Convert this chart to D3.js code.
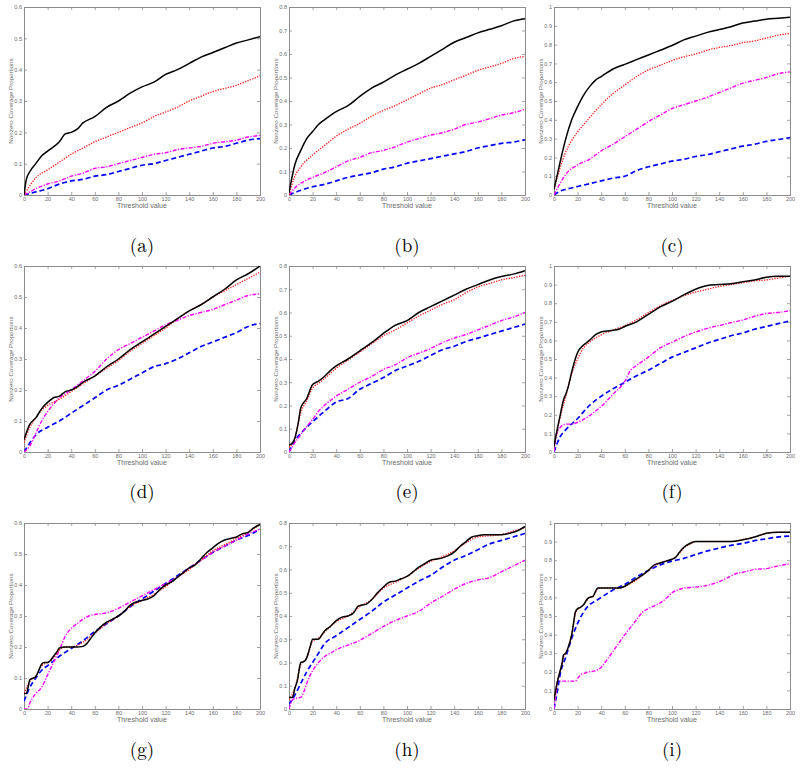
<!DOCTYPE html>
<html><head><meta charset="utf-8">
<script src="https://cdn.jsdelivr.net/npm/d3@7"></script>
<style>body{margin:0;background:#fff}svg{display:block}</style>
</head><body>
<svg id="chart" width="800" height="773"></svg>
<script>
// ---------- DATA (threshold, proportion) ----------
const xTicks = [0,20,40,60,80,100,120,140,160,180,200];
const captions = ["(a)","(b)","(c)","(d)","(e)","(f)","(g)","(h)","(i)"];
const yMax = [0.6,0.8,1,0.6,0.8,1,0.6,0.8,1];
const seriesNames = ["black","red","magenta","blue"];

// (a)
const a_black = [[0,0],[2,0.05],[5,0.075],[10,0.1],[15,0.125],[20,0.14],[30,0.17],[35,0.195],[40,0.2],[45,0.21],[50,0.23],[60,0.25],[70,0.28],[80,0.3],[90,0.325],[100,0.345],[110,0.36],[120,0.385],[130,0.4],[140,0.42],[150,0.44],[160,0.455],[170,0.47],[180,0.485],[190,0.495],[200,0.505]];
const a_red = [[0,0],[5,0.03],[10,0.055],[20,0.08],[30,0.105],[40,0.13],[50,0.15],[60,0.17],[70,0.185],[80,0.2],[90,0.215],[100,0.23],[110,0.25],[120,0.265],[130,0.28],[140,0.3],[150,0.315],[160,0.33],[170,0.34],[180,0.35],[190,0.365],[200,0.38]];
const a_magenta = [[0,0],[5,0.01],[10,0.02],[20,0.035],[30,0.045],[40,0.06],[50,0.07],[60,0.085],[70,0.09],[80,0.1],[90,0.11],[100,0.12],[110,0.13],[120,0.135],[130,0.145],[140,0.15],[150,0.155],[160,0.165],[170,0.17],[180,0.175],[190,0.185],[200,0.19]];
const a_blue = [[0,0],[10,0.01],[20,0.02],[30,0.035],[40,0.045],[50,0.05],[60,0.06],[70,0.065],[80,0.075],[90,0.085],[100,0.095],[110,0.1],[120,0.11],[130,0.12],[140,0.13],[150,0.14],[160,0.15],[170,0.155],[180,0.165],[190,0.175],[200,0.18]];
// (b)
const b_black = [[0,0.01],[5,0.13],[10,0.19],[15,0.24],[20,0.27],[25,0.3],[30,0.32],[40,0.355],[50,0.38],[60,0.42],[70,0.455],[80,0.48],[90,0.51],[100,0.535],[110,0.56],[120,0.59],[130,0.62],[140,0.65],[150,0.67],[160,0.69],[170,0.705],[180,0.72],[190,0.74],[200,0.75]];
const b_red = [[0,0],[5,0.08],[10,0.12],[20,0.17],[30,0.21],[40,0.25],[50,0.28],[60,0.305],[70,0.335],[80,0.36],[90,0.38],[100,0.405],[110,0.43],[120,0.455],[130,0.47],[140,0.49],[150,0.51],[160,0.53],[170,0.545],[180,0.56],[190,0.58],[200,0.59]];
const b_magenta = [[0,0],[5,0.03],[10,0.05],[20,0.075],[30,0.095],[40,0.12],[50,0.145],[60,0.16],[70,0.18],[80,0.19],[90,0.205],[100,0.225],[110,0.24],[120,0.255],[130,0.265],[140,0.28],[150,0.3],[160,0.31],[170,0.325],[180,0.34],[190,0.35],[200,0.365]];
const b_blue = [[0,0],[10,0.02],[20,0.035],[30,0.045],[40,0.06],[50,0.075],[60,0.085],[70,0.095],[80,0.11],[90,0.12],[100,0.135],[110,0.145],[120,0.155],[130,0.165],[140,0.175],[150,0.185],[160,0.2],[170,0.21],[180,0.22],[190,0.225],[200,0.235]];
// (c)
const c_black = [[0,0.03],[5,0.17],[10,0.3],[15,0.4],[20,0.47],[25,0.53],[30,0.575],[35,0.61],[40,0.63],[50,0.67],[60,0.695],[70,0.72],[80,0.745],[90,0.77],[100,0.795],[110,0.825],[120,0.845],[130,0.865],[140,0.88],[150,0.895],[160,0.915],[170,0.925],[180,0.935],[190,0.94],[200,0.945]];
const c_red = [[0,0.03],[5,0.14],[10,0.23],[15,0.29],[20,0.335],[30,0.41],[40,0.48],[50,0.54],[60,0.585],[70,0.63],[80,0.665],[90,0.69],[100,0.715],[110,0.735],[120,0.75],[130,0.77],[140,0.785],[150,0.795],[160,0.81],[170,0.82],[180,0.835],[190,0.85],[200,0.86]];
const c_magenta = [[0,0],[5,0.06],[10,0.11],[20,0.16],[30,0.19],[40,0.235],[50,0.27],[60,0.31],[70,0.35],[80,0.39],[90,0.425],[100,0.46],[110,0.48],[120,0.5],[130,0.52],[140,0.545],[150,0.57],[160,0.595],[170,0.61],[180,0.625],[190,0.645],[200,0.655]];
const c_blue = [[0,0],[5,0.02],[10,0.03],[20,0.045],[30,0.06],[40,0.075],[50,0.09],[60,0.1],[70,0.13],[80,0.15],[90,0.165],[100,0.18],[110,0.19],[120,0.205],[130,0.215],[140,0.23],[150,0.245],[160,0.26],[170,0.27],[180,0.285],[190,0.295],[200,0.305]];
// (d)
const d_black = [[0,0.04],[5,0.09],[10,0.11],[15,0.14],[20,0.16],[25,0.175],[30,0.18],[35,0.195],[40,0.2],[45,0.21],[50,0.225],[60,0.245],[70,0.275],[80,0.3],[90,0.33],[100,0.355],[110,0.38],[120,0.405],[130,0.43],[140,0.455],[150,0.475],[160,0.5],[170,0.525],[180,0.555],[190,0.575],[200,0.6]];
const d_red = [[0,0.03],[5,0.08],[10,0.11],[15,0.135],[20,0.15],[30,0.17],[40,0.195],[50,0.22],[60,0.245],[70,0.27],[80,0.295],[90,0.325],[100,0.35],[110,0.375],[120,0.4],[130,0.43],[140,0.455],[150,0.475],[160,0.5],[170,0.52],[180,0.54],[190,0.56],[200,0.58]];
const d_magenta = [[0,0],[5,0.02],[10,0.06],[15,0.1],[20,0.13],[25,0.155],[30,0.175],[40,0.2],[50,0.23],[60,0.26],[70,0.3],[80,0.33],[90,0.35],[100,0.37],[110,0.39],[120,0.41],[130,0.425],[140,0.44],[150,0.45],[160,0.46],[170,0.475],[180,0.49],[190,0.505],[200,0.51]];
const d_blue = [[0,0],[5,0.03],[10,0.055],[20,0.08],[30,0.1],[40,0.125],[50,0.15],[60,0.175],[70,0.2],[80,0.215],[90,0.235],[100,0.255],[110,0.275],[120,0.285],[130,0.3],[140,0.32],[150,0.34],[160,0.355],[170,0.37],[180,0.385],[190,0.405],[200,0.415]];
// (e)
const e_black = [[0,0.03],[3,0.04],[5,0.06],[8,0.13],[10,0.19],[15,0.23],[20,0.29],[25,0.305],[30,0.325],[35,0.35],[40,0.37],[50,0.4],[60,0.435],[70,0.47],[80,0.51],[90,0.545],[100,0.565],[110,0.6],[120,0.625],[130,0.65],[140,0.675],[150,0.7],[160,0.72],[170,0.74],[180,0.755],[190,0.765],[200,0.78]];
const e_red = [[0,0.02],[5,0.06],[10,0.17],[15,0.22],[20,0.275],[25,0.295],[30,0.315],[40,0.36],[50,0.395],[60,0.43],[70,0.465],[80,0.5],[90,0.525],[100,0.555],[110,0.585],[120,0.61],[130,0.635],[140,0.655],[150,0.685],[160,0.71],[170,0.725],[180,0.74],[190,0.75],[200,0.76]];
const e_magenta = [[0,0],[5,0.04],[10,0.075],[15,0.11],[20,0.14],[25,0.175],[30,0.2],[40,0.24],[50,0.27],[60,0.3],[70,0.325],[80,0.355],[90,0.375],[100,0.405],[110,0.425],[120,0.445],[130,0.47],[140,0.49],[150,0.505],[160,0.525],[170,0.545],[180,0.565],[190,0.58],[200,0.6]];
const e_blue = [[0,0],[5,0.05],[10,0.08],[20,0.13],[30,0.175],[40,0.215],[50,0.23],[60,0.27],[70,0.295],[80,0.32],[90,0.35],[100,0.37],[110,0.39],[120,0.415],[130,0.44],[140,0.455],[150,0.475],[160,0.49],[170,0.505],[180,0.52],[190,0.535],[200,0.55]];
// (f)
const f_black = [[0,0.03],[3,0.13],[5,0.19],[8,0.28],[10,0.31],[12,0.35],[15,0.43],[18,0.5],[20,0.535],[25,0.575],[30,0.6],[35,0.63],[40,0.645],[45,0.65],[50,0.655],[55,0.66],[60,0.675],[70,0.7],[80,0.74],[90,0.78],[100,0.81],[110,0.845],[120,0.875],[130,0.895],[140,0.9],[150,0.905],[160,0.915],[170,0.925],[180,0.94],[190,0.945],[200,0.945]];
const f_red = [[0,0.03],[5,0.18],[10,0.3],[15,0.42],[20,0.5],[25,0.56],[30,0.59],[40,0.63],[50,0.655],[60,0.68],[70,0.71],[80,0.75],[90,0.785],[100,0.815],[110,0.84],[120,0.86],[130,0.875],[140,0.89],[150,0.9],[160,0.91],[170,0.92],[180,0.925],[190,0.935],[200,0.945]];
const f_magenta = [[0,0],[2,0.09],[5,0.13],[10,0.15],[15,0.15],[20,0.16],[25,0.175],[30,0.195],[40,0.245],[50,0.31],[60,0.38],[65,0.44],[70,0.465],[80,0.51],[90,0.56],[100,0.59],[110,0.62],[120,0.645],[130,0.665],[140,0.68],[150,0.695],[160,0.71],[170,0.73],[180,0.745],[190,0.75],[200,0.76]];
const f_blue = [[0,0],[5,0.08],[10,0.12],[20,0.18],[30,0.25],[40,0.3],[50,0.34],[60,0.375],[70,0.41],[80,0.44],[90,0.475],[100,0.51],[110,0.535],[120,0.56],[130,0.585],[140,0.605],[150,0.625],[160,0.64],[170,0.66],[180,0.675],[190,0.69],[200,0.705]];
// (g)
const g_black = [[0,0.05],[2,0.05],[4,0.08],[5,0.095],[8,0.1],[10,0.105],[12,0.12],[15,0.145],[17,0.15],[20,0.15],[22,0.155],[25,0.17],[28,0.185],[30,0.197],[35,0.2],[40,0.2],[45,0.2],[50,0.202],[53,0.21],[56,0.225],[60,0.245],[65,0.265],[70,0.28],[75,0.29],[80,0.3],[85,0.315],[90,0.335],[95,0.345],[100,0.35],[105,0.355],[110,0.365],[115,0.385],[120,0.4],[125,0.41],[130,0.425],[135,0.44],[140,0.455],[145,0.465],[150,0.485],[155,0.505],[160,0.52],[165,0.535],[170,0.545],[175,0.55],[180,0.555],[185,0.565],[190,0.57],[195,0.585],[200,0.595]];
const g_red = [[0,0.05],[5,0.09],[10,0.105],[15,0.14],[20,0.15],[25,0.165],[30,0.19],[35,0.2],[40,0.2],[45,0.205],[50,0.215],[60,0.245],[70,0.275],[80,0.3],[90,0.33],[100,0.35],[110,0.37],[120,0.395],[130,0.425],[140,0.45],[150,0.48],[160,0.51],[170,0.53],[180,0.55],[190,0.57],[200,0.595]];
const g_magenta = [[0,0],[3,0],[5,0.02],[8,0.04],[10,0.05],[15,0.07],[20,0.11],[25,0.15],[30,0.19],[35,0.235],[40,0.26],[45,0.275],[50,0.29],[55,0.3],[60,0.305],[70,0.31],[80,0.325],[90,0.345],[100,0.365],[110,0.385],[120,0.405],[130,0.425],[140,0.455],[150,0.48],[160,0.505],[170,0.525],[180,0.545],[190,0.565],[200,0.58]];
const g_blue = [[0,0.025],[5,0.07],[10,0.1],[15,0.125],[20,0.14],[30,0.17],[40,0.195],[50,0.22],[60,0.25],[70,0.275],[80,0.3],[90,0.33],[100,0.355],[110,0.38],[120,0.405],[130,0.43],[140,0.455],[150,0.48],[160,0.505],[170,0.525],[180,0.545],[190,0.56],[200,0.58]];
// (h)
const h_black = [[0,0.05],[3,0.05],[5,0.09],[7,0.12],[10,0.2],[13,0.205],[15,0.22],[18,0.27],[20,0.3],[25,0.3],[28,0.32],[30,0.335],[35,0.355],[40,0.38],[45,0.395],[50,0.4],[55,0.415],[58,0.44],[60,0.445],[65,0.45],[70,0.47],[75,0.5],[80,0.525],[85,0.545],[90,0.55],[95,0.56],[100,0.57],[105,0.59],[110,0.61],[115,0.625],[120,0.64],[125,0.645],[130,0.65],[135,0.66],[140,0.675],[145,0.7],[150,0.72],[155,0.74],[160,0.745],[165,0.75],[170,0.75],[180,0.75],[190,0.76],[195,0.77],[200,0.785]];
const h_red = [[0,0.04],[5,0.09],[10,0.19],[15,0.22],[20,0.29],[25,0.305],[30,0.33],[40,0.375],[50,0.4],[60,0.44],[70,0.47],[80,0.52],[90,0.545],[100,0.57],[110,0.605],[120,0.635],[130,0.655],[140,0.68],[150,0.715],[160,0.74],[170,0.745],[180,0.75],[190,0.765],[200,0.78]];
const h_magenta = [[0,0],[3,0.04],[5,0.045],[10,0.05],[13,0.08],[15,0.11],[20,0.165],[25,0.2],[30,0.225],[35,0.24],[40,0.255],[50,0.275],[60,0.295],[70,0.325],[80,0.355],[90,0.38],[100,0.4],[110,0.42],[120,0.455],[130,0.485],[140,0.515],[150,0.54],[160,0.555],[170,0.565],[180,0.59],[190,0.615],[200,0.64]];
const h_blue = [[0,0.02],[5,0.06],[10,0.11],[15,0.16],[20,0.2],[25,0.24],[30,0.28],[40,0.315],[50,0.35],[60,0.385],[70,0.42],[80,0.46],[90,0.49],[100,0.52],[110,0.55],[120,0.575],[130,0.61],[140,0.64],[150,0.66],[160,0.685],[170,0.71],[180,0.725],[190,0.74],[200,0.755]];
// (i)
const i_black = [[0,0.05],[2,0.12],[3,0.15],[5,0.2],[7,0.25],[8,0.29],[10,0.3],[12,0.33],[15,0.4],[17,0.48],[18,0.52],[20,0.54],[22,0.545],[25,0.56],[28,0.59],[30,0.6],[33,0.605],[35,0.63],[37,0.65],[40,0.65],[50,0.65],[55,0.65],[60,0.66],[65,0.68],[70,0.7],[75,0.72],[80,0.745],[85,0.775],[90,0.785],[95,0.795],[100,0.805],[103,0.815],[106,0.84],[110,0.87],[115,0.89],[120,0.9],[130,0.9],[140,0.9],[150,0.9],[160,0.91],[170,0.925],[175,0.935],[180,0.945],[190,0.95],[200,0.95]];
const i_red = [[0,0.05],[2,0.12],[3,0.15],[5,0.2],[7,0.25],[8,0.28],[10,0.3],[12,0.33],[15,0.4],[17,0.47],[18,0.51],[20,0.535],[22,0.545],[25,0.56],[28,0.585],[30,0.6],[33,0.605],[35,0.625],[37,0.645],[40,0.65],[50,0.65],[55,0.65],[60,0.66],[65,0.675],[70,0.695],[75,0.72],[80,0.745],[85,0.77],[90,0.785],[95,0.795],[100,0.805],[103,0.815],[106,0.835],[110,0.865],[115,0.885],[120,0.9],[130,0.9],[140,0.9],[150,0.9],[160,0.91],[170,0.925],[175,0.935],[180,0.945],[190,0.95],[200,0.95]];
const i_magenta = [[0,0],[2,0.1],[3,0.15],[5,0.15],[10,0.15],[15,0.15],[18,0.15],[20,0.165],[23,0.185],[27,0.195],[30,0.2],[35,0.205],[40,0.225],[45,0.265],[50,0.31],[55,0.355],[60,0.4],[65,0.44],[70,0.48],[75,0.52],[80,0.54],[85,0.555],[90,0.57],[95,0.595],[100,0.625],[105,0.64],[110,0.65],[120,0.655],[130,0.665],[140,0.685],[150,0.715],[155,0.73],[160,0.735],[170,0.75],[180,0.755],[190,0.77],[200,0.78]];
const i_blue = [[0,0],[3,0.1],[5,0.18],[10,0.28],[15,0.38],[20,0.46],[25,0.52],[30,0.56],[35,0.58],[40,0.6],[50,0.64],[60,0.67],[70,0.71],[80,0.745],[90,0.775],[100,0.795],[110,0.81],[120,0.83],[130,0.85],[140,0.865],[150,0.88],[160,0.89],[170,0.905],[180,0.915],[190,0.925],[200,0.93]];

const panels = [
  [a_black,a_red,a_magenta,a_blue],[b_black,b_red,b_magenta,b_blue],[c_black,c_red,c_magenta,c_blue],
  [d_black,d_red,d_magenta,d_blue],[e_black,e_red,e_magenta,e_blue],[f_black,f_red,f_magenta,f_blue],
  [g_black,g_red,g_magenta,g_blue],[h_black,h_red,h_magenta,h_blue],[i_black,i_red,i_magenta,i_blue]
];

// ---------- LAYOUT / STYLE ----------
const colLeft = [24, 289, 554];
const rowTop = [7, 266, 523];
const rowH = [188, 186, 186];
const plotW = 236;
const captionY = [252, 498, 756];
const styles = {
  black:   {stroke:"#000000", width:1.5, dash:null},
  red:     {stroke:"#ff1a1a", width:1.3, dash:"1.3,1.3"},
  magenta: {stroke:"#ff00ff", width:1.4, dash:"4,1.5,1.2,1.5"},
  blue:    {stroke:"#0000ff", width:1.7, dash:"5,3"}
};
const axisGray = "#8c8c8c", textGray = "#6b6b6b";
const sans = "Liberation Sans, Arial, sans-serif";

const svg = d3.select("#chart");

panels.forEach((series, k) => {
  const col = k % 3, row = Math.floor(k / 3);
  const left = colLeft[col], top = rowTop[row];
  const h = rowH[row];
  const x = d3.scaleLinear().domain([0,200]).range([0, plotW]);
  const y = d3.scaleLinear().domain([0, yMax[k]]).range([h, 0]);
  const g = svg.append("g").attr("transform", `translate(${left},${top})`);
  const yTicks = d3.range(0, yMax[k] + 1e-9, 0.1).map(v => +v.toFixed(1));

  const cid = "clip" + k;
  g.append("clipPath").attr("id", cid).append("rect").attr("width", plotW).attr("height", h);

  // axes (MATLAB-style box with inward ticks)
  const fmt = d => d === 0 ? "0" : (d === 1 ? "1" : d3.format(".1f")(d));
  const axB = g.append("g").attr("transform", `translate(0,${h})`)
    .call(d3.axisBottom(x).tickValues(xTicks).tickSize(-3).tickPadding(2).tickFormat(d3.format("d")));
  const axT = g.append("g")
    .call(d3.axisTop(x).tickValues(xTicks).tickSize(-3).tickFormat(""));
  const axL = g.append("g")
    .call(d3.axisLeft(y).tickValues(yTicks).tickSize(-3).tickPadding(2).tickFormat(fmt));
  const axR = g.append("g").attr("transform", `translate(${plotW},0)`)
    .call(d3.axisRight(y).tickValues(yTicks).tickSize(-3).tickFormat(""));
  [axB, axT, axL, axR].forEach(a => {
    a.selectAll("path").attr("stroke", axisGray).attr("stroke-width", 1);
    a.selectAll("line").attr("stroke", axisGray).attr("stroke-width", 0.8);
    a.selectAll("text").attr("fill", textGray).attr("font-size", 5.5).attr("font-family", sans);
  });

  // lines
  const line = d3.line().x(d => x(d[0])).y(d => y(d[1])).curve(d3.curveMonotoneX);
  [3, 2, 1, 0].forEach(si => {
    const st = styles[seriesNames[si]];
    g.append("path").datum(series[si])
      .attr("clip-path", `url(#${cid})`)
      .attr("fill", "none").attr("stroke", st.stroke).attr("stroke-width", st.width)
      .attr("stroke-dasharray", st.dash).attr("stroke-linejoin", "round")
      .attr("d", line);
  });

  // axis labels
  g.append("text").attr("x", plotW / 2).attr("y", h + 12.5)
    .attr("text-anchor", "middle").attr("fill", textGray).attr("font-size", 7)
    .attr("font-family", sans).text("Threshold value");
  g.append("text").attr("transform", `translate(-11,${h / 2}) rotate(-90)`)
    .attr("text-anchor", "middle").attr("fill", textGray).attr("font-size", 6.2)
    .attr("font-family", sans).text("Nonzero Coverage Proportions");

  // caption
  svg.append("text").attr("x", left + plotW / 2).attr("y", captionY[row])
    .attr("text-anchor", "middle").attr("fill", "#000").attr("font-size", 19)
    .attr("font-family", "Latin Modern Roman, CMU Serif, Liberation Serif, serif").text(captions[k]);
});
</script>
</body></html>
